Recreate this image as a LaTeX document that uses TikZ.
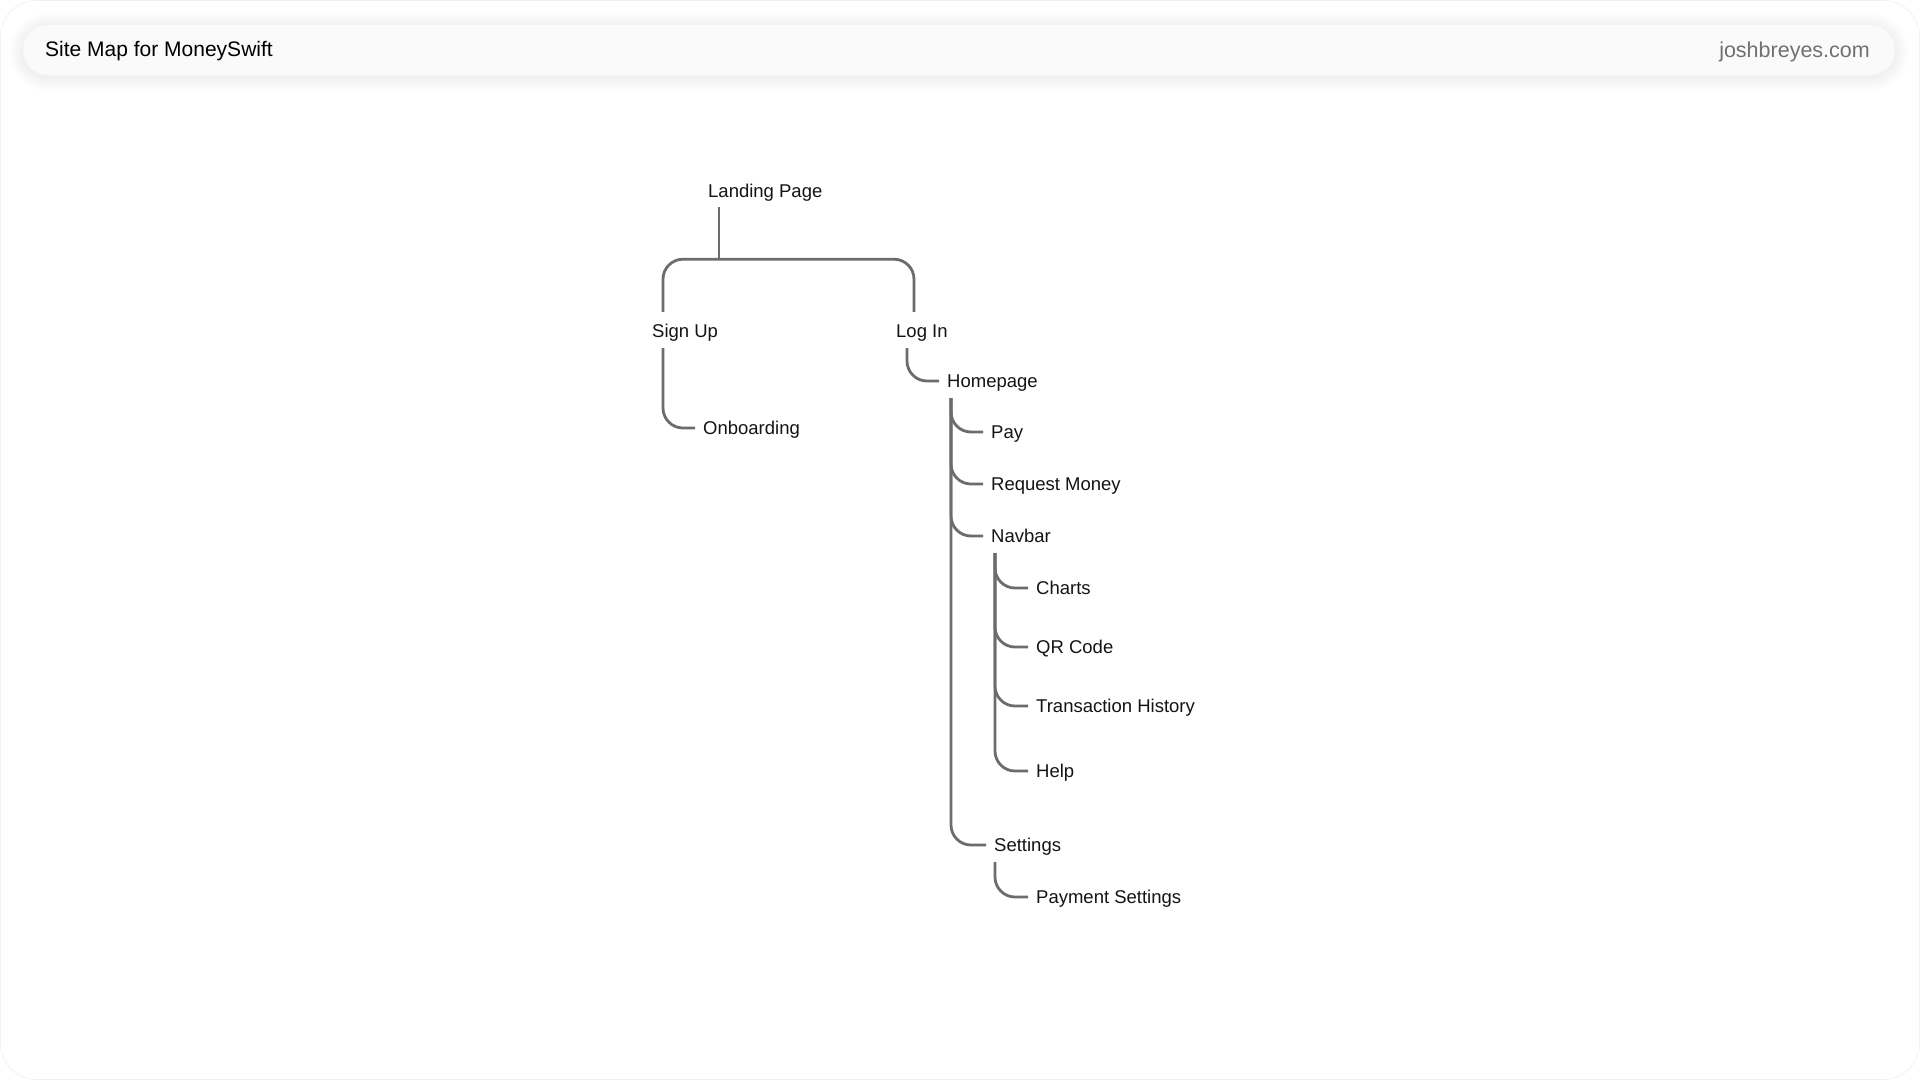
\documentclass[tikz,border=0pt]{standalone}
\usepackage{fontspec}
\setmainfont{Liberation Sans}
\definecolor{linkgray}{RGB}{108,108,108}
\definecolor{urlgray}{RGB}{112,112,112}

\begin{document}
\begin{tikzpicture}[x=1pt, y=-1pt,
                    page node/.style= {anchor=west,
                      inner sep=0pt,
                      text height=13pt, text depth=0pt,
                      minimum height=30pt,
                      text=black!92,
                      font=\fontsize{18.5}{22}\selectfont},
                    link/.style= {draw=linkgray, line width=2.8pt, rounded corners=20pt},
                    branch/.style= {link,
                      to path={([xshift=#1, yshift=-2pt]\tikztostart.south west)
                               |- ([xshift=-8pt]\tikztotarget.west)}},
                    branch/.default=4pt]

  \path[use as bounding box] (0,0) rectangle (1920,1080);
  \fill[white] (0,0) rectangle (1920,1080);
  \draw[black!6, line width=0.6pt, rounded corners=36pt] (0.5,0.5) rectangle (1919.5,1079.5);

  \foreach \s in {2,4,...,14}
    \fill[black, opacity=0.008, rounded corners=25pt+\s pt]
      (23-\s,27-\s) rectangle (1895+\s,77+\s);
  \fill[black!2, rounded corners=25pt] (23,25) rectangle (1895,75);
  \node[anchor=base west, inner sep=0pt, font=\fontsize{21}{25}\selectfont] (title) at (45,56) {Site Map for MoneySwift};
  \node[anchor=base east, inner sep=0pt, text=urlgray, font=\fontsize{21.5}{25}\selectfont] (url) at (1870,57) {joshbreyes.com};

  \node[page node] (1) at (708,191) {Landing Page};
  \node[page node] (2) at ([xshift=-56pt, yshift=-140pt]1.west) {Sign Up};
  \node[page node] (3) at ([xshift=244pt]2.west) {Log In};
  \node[page node] (4) at ([xshift=51pt, yshift=-97pt]2.west) {Onboarding};
  \node[page node] (5) at ([xshift=51pt, yshift=-50pt]3.west) {Homepage};
  \node[page node] (6) at ([xshift=44pt, yshift=-51pt]5.west) {Pay};
  \node[page node] (7) at ([yshift=-52pt]6.west) {Request Money};
  \node[page node] (8) at ([yshift=-52pt]7.west) {Navbar};
  \node[page node] (9) at ([xshift=45pt, yshift=-52pt]8.west) {Charts};
  \node[page node] (10) at ([yshift=-59pt]9.west) {QR Code};
  \node[page node] (11) at ([yshift=-59pt]10.west) {Transaction History};
  \node[page node] (12) at ([yshift=-65pt]11.west) {Help};
  \node[page node] (13) at ([xshift=3pt, yshift=-309pt]8.west) {Settings};
  \node[page node] (14) at ([xshift=42pt, yshift=-52pt]13.west) {Payment Settings};

  \coordinate (split) at ([xshift=11pt, yshift=-53pt]1.south west);
  \draw[link] ([xshift=11pt, yshift=-1pt]1.south west) -- (split);
  \draw[link] (split) -| ([xshift=11pt, yshift=4pt]2.north west);
  \draw[link] (split) -| ([xshift=18pt, yshift=4pt]3.north west);

  \path
    (2) edge[branch=11pt] (4)
    (3) edge[branch=11pt] (5)
    (5) edge[branch] (6)
        edge[branch] (7)
        edge[branch] (8)
        edge[branch] (13)
    (8) edge[branch] (9)
        edge[branch] (10)
        edge[branch] (11)
        edge[branch] (12)
    (13) edge[branch=1pt] (14);
\end{tikzpicture}
\end{document}
